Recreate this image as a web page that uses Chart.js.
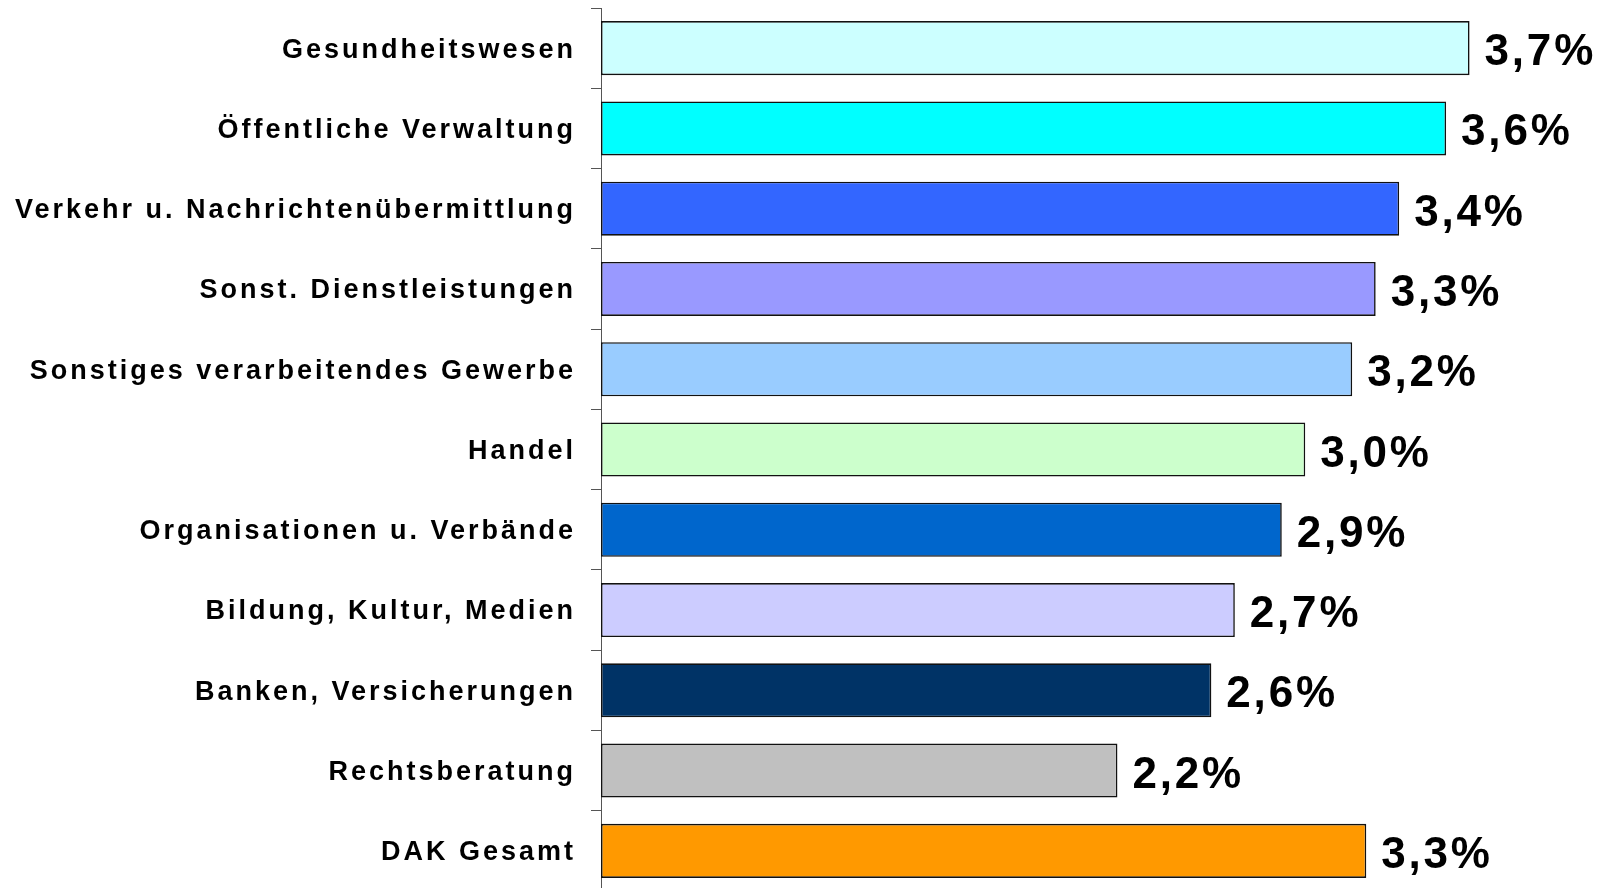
<!DOCTYPE html>
<html>
<head>
<meta charset="utf-8">
<script src="https://cdn.jsdelivr.net/npm/chart.js@4"></script>
<style>
html,body{margin:0;padding:0;background:#fff;overflow:hidden;}
#wrap{position:relative;width:1598px;height:892px;}
</style>
</head>
<body>
<div id="wrap"><canvas id="c"></canvas></div>
<script>
const categories = [
  "Gesundheitswesen",
  "Öffentliche Verwaltung",
  "Verkehr u. Nachrichtenübermittlung",
  "Sonst. Dienstleistungen",
  "Sonstiges verarbeitendes Gewerbe",
  "Handel",
  "Organisationen u. Verbände",
  "Bildung, Kultur, Medien",
  "Banken, Versicherungen",
  "Rechtsberatung",
  "DAK Gesamt"
];
const values = [3.7, 3.6, 3.4, 3.3, 3.2, 3.0, 2.9, 2.7, 2.6, 2.2, 3.26];
const colors = ["#CCFFFF","#00FFFF","#3366FF","#9999FF","#99CCFF","#CCFFCC","#0066CC","#CCCCFF","#003366","#C0C0C0","#FF9900"];

const valueLabels = {
  id: 'valueLabels',
  beforeDraw(chart) {
    chart.ctx.letterSpacing = '3px';
  },
  afterDatasetsDraw(chart) {
    const ctx = chart.ctx;
    const meta = chart.getDatasetMeta(0);
    ctx.save();
    ctx.letterSpacing = '2.8px';
    ctx.font = 'bold 44px "Liberation Sans", Arial, sans-serif';
    ctx.fillStyle = '#000';
    ctx.textAlign = 'left';
    ctx.textBaseline = 'alphabetic';
    meta.data.forEach((bar, i) => {
      const txt = values[i].toFixed(1).replace('.', ',') + '%';
      ctx.fillText(txt, bar.x + 15, bar.y + 17);
    });
    ctx.restore();
  }
};

new Chart(document.getElementById('c'), {
  type: 'bar',
  data: {
    labels: categories,
    datasets: [{
      data: values,
      backgroundColor: colors,
      borderColor: '#111',
      borderWidth: 1.6,
      borderSkipped: false,
      categoryPercentage: 1,
      barPercentage: 0.673
    }]
  },
  options: {
    indexAxis: 'y',
    responsive: true,
    maintainAspectRatio: false,
    animation: false,
    devicePixelRatio: 1,
    layout: { padding: { top: 8, bottom: 1, left: 0, right: 58 } },
    plugins: { legend: { display: false }, tooltip: { enabled: false } },
    scales: {
      x: { display: false, min: 0, max: 4 },
      y: {
        afterFit(s) { s.width = 601; s.paddingTop = 0; s.paddingBottom = 0; },
        grid: { offset: true, drawOnChartArea: false, drawTicks: true, tickLength: 10, color: '#555', lineWidth: 1 },
        border: { display: true, color: '#555', width: 1 },
        ticks: {
          padding: 15,
          labelOffset: 2,
          color: '#000',
          font: { family: '"Liberation Sans", Arial, sans-serif', weight: 'bold', size: 27 }
        }
      }
    }
  },
  plugins: [valueLabels]
});
</script>
</body>
</html>
